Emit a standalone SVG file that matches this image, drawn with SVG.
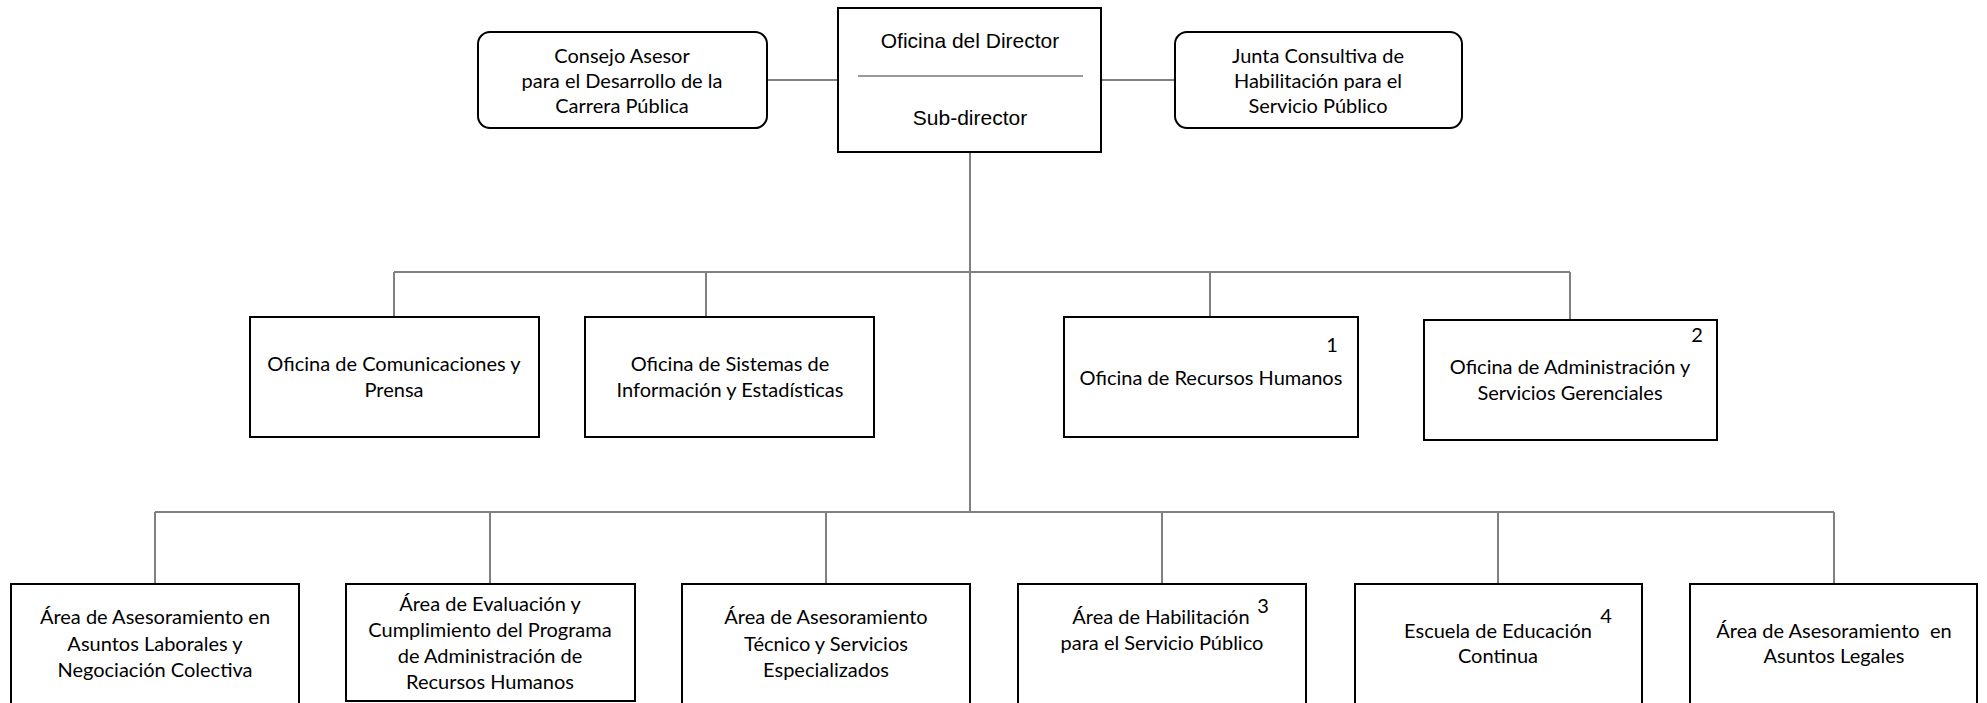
<svg xmlns="http://www.w3.org/2000/svg" width="1987" height="703" viewBox="0 0 1987 703">
<style>
.box{fill:#fff;stroke:#000;stroke-width:2}
.conn{stroke:#808080;stroke-width:2;fill:none}
.t{font-family:Lato,"Open Sans","Liberation Sans",sans-serif;font-size:20px;fill:#000;text-anchor:middle}
.a{font-family:"Liberation Sans",Arial,sans-serif;font-size:21px;fill:#000;text-anchor:middle}
</style>
<rect width="1987" height="703" fill="#fff"/>
<g id="connectors">
<line class="conn" x1="767" y1="80" x2="838" y2="80"/>
<line class="conn" x1="1101" y1="80" x2="1175" y2="80"/>
<line class="conn" x1="970" y1="152" x2="970" y2="512"/>
<line class="conn" x1="394" y1="272" x2="1570" y2="272"/>
<line class="conn" x1="394" y1="272" x2="394" y2="317"/>
<line class="conn" x1="706" y1="272" x2="706" y2="317"/>
<line class="conn" x1="1210" y1="272" x2="1210" y2="317"/>
<line class="conn" x1="1570" y1="272" x2="1570" y2="320"/>
<line class="conn" x1="155" y1="512" x2="1834" y2="512"/>
<line class="conn" x1="155" y1="512" x2="155" y2="584"/>
<line class="conn" x1="490" y1="512" x2="490" y2="584"/>
<line class="conn" x1="826" y1="512" x2="826" y2="584"/>
<line class="conn" x1="1162" y1="512" x2="1162" y2="584"/>
<line class="conn" x1="1498" y1="512" x2="1498" y2="584"/>
<line class="conn" x1="1834" y1="512" x2="1834" y2="584"/>
</g>
<g id="consejo">
<rect class="box" x="478" y="32" width="289" height="96" rx="12"/>
<text class="t" x="622" y="63">Consejo Asesor</text>
<text class="t" x="622" y="88">para el Desarrollo de la</text>
<text class="t" x="622" y="113">Carrera Pública</text>
</g>
<g id="director">
<rect class="box" x="838" y="8" width="263" height="144"/>
<text class="a" x="970" y="48">Oficina del Director</text>
<line x1="858" y1="76" x2="1083" y2="76" stroke="#333" stroke-width="1"/>
<text class="a" x="970" y="125">Sub-director</text>
</g>
<g id="junta">
<rect class="box" x="1175" y="32" width="287" height="96" rx="12"/>
<text class="t" x="1318" y="63">Junta Consultiva de</text>
<text class="t" x="1318" y="88">Habilitación para el</text>
<text class="t" x="1318" y="113">Servicio Público</text>
</g>
<g id="comunicaciones">
<rect class="box" x="250" y="317" width="289" height="120"/>
<text class="t" x="394" y="371">Oficina de Comunicaciones y</text>
<text class="t" x="394" y="397">Prensa</text>
</g>
<g id="sistemas">
<rect class="box" x="585" y="317" width="289" height="120"/>
<text class="t" x="730" y="371">Oficina de Sistemas de</text>
<text class="t" x="730" y="397">Información y Estadísticas</text>
</g>
<g id="recursos">
<rect class="box" x="1064" y="317" width="294" height="120"/>
<text class="t" x="1332" y="352">1</text>
<text class="t" x="1211" y="385">Oficina de Recursos Humanos</text>
</g>
<g id="administracion">
<rect class="box" x="1424" y="320" width="293" height="120"/>
<text class="t" x="1697" y="342">2</text>
<text class="t" x="1570" y="374">Oficina de Administración y</text>
<text class="t" x="1570" y="400">Servicios Gerenciales</text>
</g>
<g id="area1">
<rect class="box" x="11" y="584" width="288" height="140"/>
<text class="t" x="155" y="624">Área de Asesoramiento en</text>
<text class="t" x="155" y="651">Asuntos Laborales y</text>
<text class="t" x="155" y="677">Negociación Colectiva</text>
</g>
<g id="area2">
<rect class="box" x="346" y="584" width="289" height="117"/>
<text class="t" x="490" y="611">Área de Evaluación y</text>
<text class="t" x="490" y="637">Cumplimiento del Programa</text>
<text class="t" x="490" y="663">de Administración de</text>
<text class="t" x="490" y="689">Recursos Humanos</text>
</g>
<g id="area3">
<rect class="box" x="682" y="584" width="288" height="140"/>
<text class="t" x="826" y="624">Área de Asesoramiento</text>
<text class="t" x="826" y="651">Técnico y Servicios</text>
<text class="t" x="826" y="677">Especializados</text>
</g>
<g id="area4">
<rect class="box" x="1018" y="584" width="288" height="140"/>
<text class="t" x="1263" y="613">3</text>
<text class="t" x="1161" y="624">Área de Habilitación</text>
<text class="t" x="1162" y="650">para el Servicio Público</text>
</g>
<g id="escuela">
<rect class="box" x="1355" y="584" width="287" height="140"/>
<text class="t" x="1606" y="623">4</text>
<text class="t" x="1498" y="638">Escuela de Educación</text>
<text class="t" x="1498" y="663">Continua</text>
</g>
<g id="legales">
<rect class="box" x="1690" y="584" width="287" height="140"/>
<text class="t" x="1834" y="638" xml:space="preserve">Área de Asesoramiento  en</text>
<text class="t" x="1834" y="663">Asuntos Legales</text>
</g>
</svg>
